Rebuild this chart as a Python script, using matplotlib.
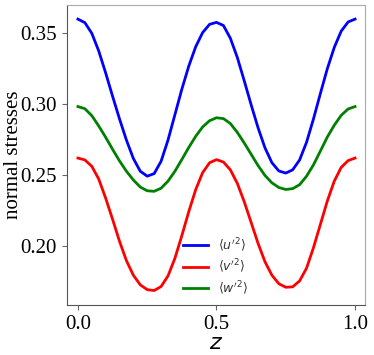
import matplotlib
matplotlib.use('Agg')
import matplotlib.pyplot as plt

# values at z = 0, 0.025, ..., 1.0
z = [i * 0.025 for i in range(41)]

u2 = [0.3600, 0.3575, 0.3500, 0.3375, 0.3220, 0.3055, 0.2895, 0.2745, 0.2615, 0.2525,
      0.2490, 0.2508, 0.2595, 0.2745, 0.2925, 0.3105, 0.3268, 0.3405, 0.3505, 0.3563,
      0.3577, 0.3555, 0.3465, 0.3330, 0.3165, 0.2995, 0.2832, 0.2690, 0.2585, 0.2527,
      0.2512, 0.2535, 0.2605, 0.2730, 0.2895, 0.3075, 0.3250, 0.3400, 0.3515, 0.3580,
      0.3600]
v2 = [0.2618, 0.2605, 0.2560, 0.2470, 0.2335, 0.2185, 0.2030, 0.1893, 0.1790, 0.1722,
      0.1688, 0.1682, 0.1710, 0.1785, 0.1910, 0.2070, 0.2240, 0.2395, 0.2515, 0.2585,
      0.2607, 0.2590, 0.2535, 0.2440, 0.2310, 0.2163, 0.2015, 0.1885, 0.1790, 0.1730,
      0.1705, 0.1708, 0.1750, 0.1840, 0.1985, 0.2150, 0.2315, 0.2455, 0.2552, 0.2600,
      0.2618]
w2 = [0.2982, 0.2967, 0.2918, 0.2845, 0.2765, 0.2680, 0.2598, 0.2525, 0.2463, 0.2413,
      0.2387, 0.2383, 0.2405, 0.2455, 0.2525, 0.2608, 0.2693, 0.2772, 0.2838, 0.2882,
      0.2903, 0.2897, 0.2862, 0.2800, 0.2725, 0.2645, 0.2565, 0.2495, 0.2443, 0.2410,
      0.2396, 0.2402, 0.2430, 0.2490, 0.2570, 0.2668, 0.2767, 0.2850, 0.2920, 0.2965,
      0.2982]

labels = [r"$\langle u'^2 \rangle$", r"$\langle v'^2 \rangle$", r"$\langle w'^2 \rangle$"]
colors = ['blue', 'red', 'green']

fig = plt.figure(figsize=(3.74, 3.55), dpi=100)
ax = fig.add_axes([0.178, 0.141, 0.798, 0.845])

for y, lab, c in zip([u2, v2, w2], labels, colors):
    ax.plot(z, y, color=c, lw=2, label=lab)

ax.set_xlim(-0.041, 1.036)
ax.set_ylim(0.158, 0.370)
ax.set_xticks([0.0, 0.5, 1.0])
ax.set_yticks([0.20, 0.25, 0.30, 0.35])
ax.set_xticklabels(['0.0', '0.5', '1.0'], family='Liberation Serif', fontsize=15)
ax.set_yticklabels(['0.20', '0.25', '0.30', '0.35'], family='Liberation Serif', fontsize=15)
ax.tick_params(length=3.5, color='#666666')

ax.set_xlabel('$z$', fontsize=16)
ax.xaxis.set_label_coords(0.5, -0.092)
ax.set_ylabel('normal stresses', family='Liberation Serif', fontsize=15)
ax.yaxis.set_label_coords(-0.145, 0.5)

for s in ['left', 'bottom']:
    ax.spines[s].set_color('#555555')
for s in ['top', 'right']:
    ax.spines[s].set_color('#aaaaaa')

ax.legend(loc='lower center', frameon=False, fontsize=9, handlelength=2.0,
          labelspacing=0.3, bbox_to_anchor=(0.5, -0.01), labelcolor='#333333')

plt.savefig('out.png', dpi=100)
plt.close()
